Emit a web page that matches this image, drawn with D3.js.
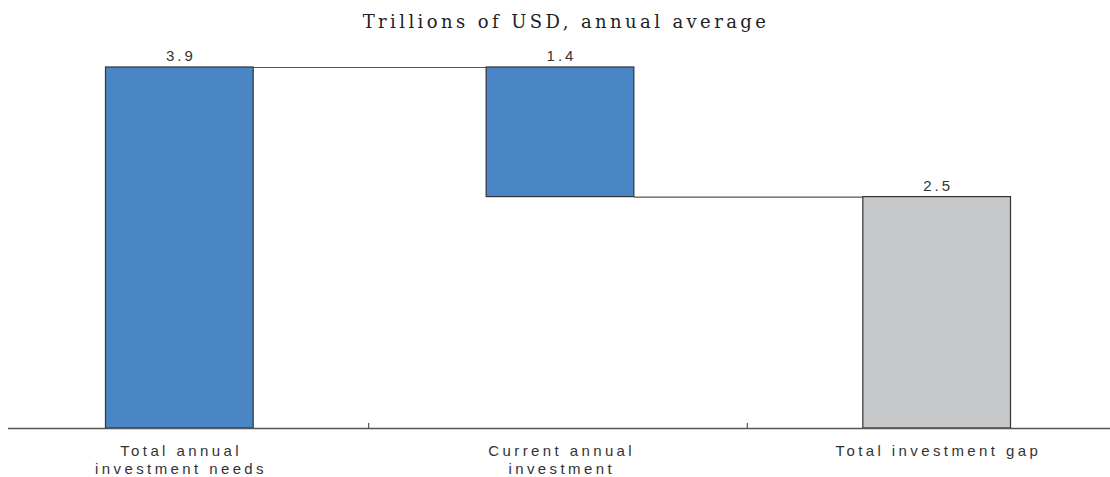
<!DOCTYPE html>
<html>
<head>
<meta charset="utf-8">
<script src="https://cdn.jsdelivr.net/npm/d3@7"></script>
<style>
  body { margin: 0; background: #fff; }
  svg text { font-family: "Liberation Sans", Arial, sans-serif; }
</style>
</head>
<body>
<div id="chart"></div>
<script>
// data
var categories = ["Total annual investment needs", "Current annual investment", "Total investment gap"];
var labelLines = [["Total annual", "investment needs"], ["Current annual", "investment"], ["Total investment gap"]];
var values = [3.9, -1.4, 2.5];
var valueLabels = ["3.9", "1.4", "2.5"];
var kinds = ["total", "step", "total"];

var width = 1110, height = 477;
var baseY = 428;

var svg = d3.select("#chart").append("svg")
  .attr("width", width)
  .attr("height", height);

var x = d3.scaleBand().domain(categories).range([-10, 1126]).padding(0);
var y = d3.scaleLinear().domain([0, 3.9]).range([baseY, 67]);
var barW = x.bandwidth() * 0.39;

// compute waterfall start/end
var running = 0;
var bars = categories.map(function(c, i) {
  var b;
  if (kinds[i] == "total") {
    b = {cat: c, y0: 0, y1: values[i]};
    running = values[i];
  } else {
    b = {cat: c, y0: running + values[i], y1: running};
    running = running + values[i];
  }
  b.label = valueLabels[i];
  b.fill = (i == categories.length - 1) ? "#c6c7c9" : "#4a86c5";
  return b;
});

function cx(c) { return x(c) + x.bandwidth() / 2 + (c == categories[1] ? 2 : 0); }

// connectors
for (var i = 0; i < bars.length - 1; i++) {
  var lvl = (i == 0) ? bars[i].y1 : bars[i].y0;
  svg.append("line")
    .attr("x1", cx(bars[i].cat) + barW / 2)
    .attr("x2", cx(bars[i + 1].cat) - barW / 2)
    .attr("y1", y(lvl) + 0.5)
    .attr("y2", y(lvl) + 0.5)
    .attr("stroke", "#555")
    .attr("stroke-width", 1.2);
}

svg.selectAll("rect.bar")
  .data(bars)
  .enter().append("rect")
  .attr("class", "bar")
  .attr("x", d => cx(d.cat) - barW / 2)
  .attr("y", d => y(Math.max(d.y0, d.y1)))
  .attr("width", barW)
  .attr("height", d => Math.abs(y(d.y0) - y(d.y1)))
  .attr("fill", d => d.fill)
  .attr("stroke", "#333")
  .attr("stroke-width", 1.2);

svg.selectAll("text.val")
  .data(bars)
  .enter().append("text")
  .attr("class", "val")
  .attr("x", d => cx(d.cat) + 1.5)
  .attr("y", d => y(Math.max(d.y0, d.y1)) - 6)
  .attr("text-anchor", "middle")
  .attr("font-size", "15px")
  .attr("letter-spacing", "3px")
  .attr("fill", "#333")
  .text(d => d.label);

// axis
svg.append("line")
  .attr("x1", 8).attr("x2", width)
  .attr("y1", baseY + 0.5).attr("y2", baseY + 0.5)
  .attr("stroke", "#555").attr("stroke-width", 1.5);

var bounds = categories.slice(1).map(c => x(c));
svg.selectAll("line.tick")
  .data(bounds)
  .enter().append("line")
  .attr("class", "tick")
  .attr("x1", d => d).attr("x2", d => d)
  .attr("y1", baseY - 5).attr("y2", baseY)
  .attr("stroke", "#555").attr("stroke-width", 1.2);

var lab = svg.selectAll("text.cat")
  .data(categories)
  .enter().append("text")
  .attr("class", "cat")
  .attr("text-anchor", "middle")
  .attr("font-size", "15px")
  .attr("letter-spacing", "3.4px")
  .attr("fill", "#333");
lab.each(function(c, i) {
  var t = d3.select(this);
  labelLines[i].forEach(function(l, j) {
    t.append("tspan")
      .attr("x", cx(c) + 1.7)
      .attr("y", 456 + j * 18)
      .text(l);
  });
});

// title
svg.append("text")
  .attr("x", 566)
  .attr("y", 28)
  .attr("text-anchor", "middle")
  .style("font-family", "'DejaVu Serif', 'Liberation Serif', serif")
  .attr("font-size", "18px")
  .attr("letter-spacing", "3.4px")
  .attr("fill", "#222")
  .text("Trillions of USD, annual average");
</script>
</body>
</html>
